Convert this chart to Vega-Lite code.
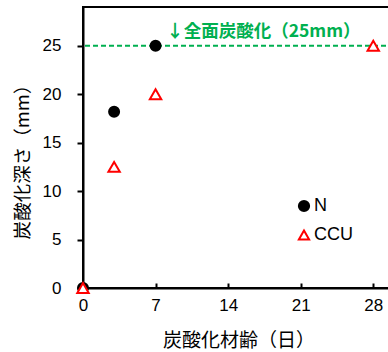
{
  "$schema": "https://vega.github.io/schema/vega-lite/v6.json",
  "autosize": "none",
  "width": 311,
  "height": 281,
  "padding": {"left": 83, "top": 7, "right": 0, "bottom": 64},
  "background": "white",
  "config": {
    "font": "Liberation Sans, Noto Sans CJK JP",
    "view": {"stroke": "black", "strokeWidth": 2},
    "axis": {
      "grid": false,
      "domainColor": "black",
      "domainWidth": 2,
      "tickColor": "black",
      "tickWidth": 2,
      "labelFont": "Liberation Sans",
      "labelFontSize": 17,
      "labelColor": "black",
      "labelFlush": false,
      "titleFont": "Noto Sans CJK JP",
      "titleFontSize": 19,
      "titleFontWeight": "normal",
      "titleColor": "black"
    }
  },
  "datasets": {
    "depth": [
      {"age": 0, "depth": 0, "mix": "N"},
      {"age": 3, "depth": 18.2, "mix": "N"},
      {"age": 7, "depth": 25, "mix": "N"},
      {"age": 0, "depth": 0, "mix": "CCU"},
      {"age": 3, "depth": 12.5, "mix": "CCU"},
      {"age": 7, "depth": 20, "mix": "CCU"},
      {"age": 28, "depth": 25, "mix": "CCU"}
    ],
    "limit": [{"depth": 25, "age": 17.4, "label": "↓全面炭酸化（25mm）"}]
  },
  "layer": [
    {
      "data": {"name": "limit"},
      "mark": {"type": "rule", "color": "#00B050", "strokeWidth": 2, "strokeDash": [5, 3]},
      "encoding": {"y": {"field": "depth", "type": "quantitative"}}
    },
    {
      "data": {"name": "limit"},
      "mark": {"type": "text", "color": "#00B050", "fontWeight": "bold", "fontSize": 17.5, "font": "Noto Sans CJK JP", "dy": -14},
      "encoding": {
        "x": {"field": "age", "type": "quantitative"},
        "y": {"field": "depth", "type": "quantitative"},
        "text": {"field": "label"}
      }
    },
    {
      "data": {"name": "depth"},
      "mark": {"type": "point", "strokeWidth": 2, "opacity": 1},
      "encoding": {
        "x": {
          "field": "age",
          "type": "quantitative",
          "scale": {"domain": [0, 30], "nice": false},
          "axis": {
            "values": [0, 7, 14, 21, 28],
            "tickSize": -5,
            "labelPadding": 14,
            "title": "炭酸化材齢（日）",
            "titleY": 52,
            "titleBaseline": "middle"
          }
        },
        "y": {
          "field": "depth",
          "type": "quantitative",
          "scale": {"domain": [0, 29], "nice": false},
          "axis": {
            "values": [0, 5, 10, 15, 20, 25],
            "tickSize": 6,
            "labelPadding": 16,
            "title": "炭酸化深さ（mm）",
            "titleX": -61,
            "titleY": 150,
            "titleFontSize": 18.5,
            "titleBaseline": "middle",
            "titleAngle": 270
          }
        },
        "size": {
          "condition": {"test": "datum.mix === 'CCU'", "value": 130},
          "value": 100
        },
        "shape": {
          "field": "mix",
          "type": "nominal",
          "scale": {"domain": ["N", "CCU"], "range": ["circle", "triangle-up"]},
          "legend": {
            "orient": "none",
            "legendX": 212,
            "legendY": 190,
            "title": null,
            "labelFont": "Liberation Sans",
            "labelFontSize": 18,
            "labelColor": "black",
            "labelOffset": 1,
            "symbolSize": 105,
            "symbolStrokeWidth": 2,
            "rowPadding": 10
          }
        },
        "stroke": {
          "field": "mix",
          "type": "nominal",
          "scale": {"domain": ["N", "CCU"], "range": ["black", "#FF0000"]}
        },
        "fill": {
          "field": "mix",
          "type": "nominal",
          "scale": {"domain": ["N", "CCU"], "range": ["black", "white"]}
        }
      }
    }
  ]
}
